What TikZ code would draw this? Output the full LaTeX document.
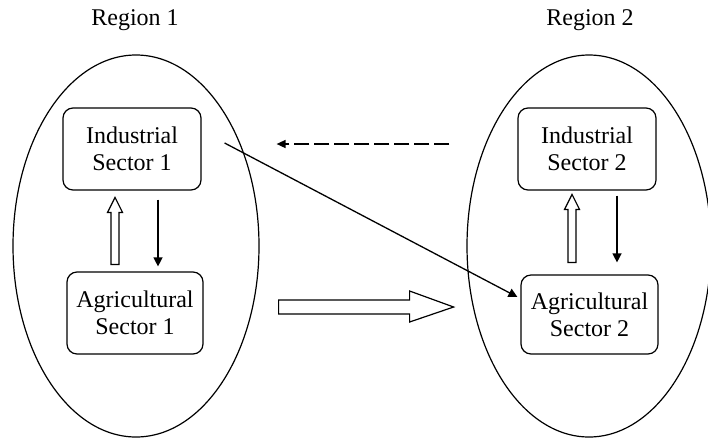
\documentclass[tikz,border=0pt]{standalone}
\usepackage{fontspec}
\setmainfont{Liberation Serif}
\usetikzlibrary{shapes.geometric,arrows.meta}
\tikzset{
  region/.style={draw, ellipse, line width=1.2pt, inner sep=0pt},
  sector/.style={draw, rounded corners=10pt, line width=1.2pt, align=center,
    inner sep=0pt, font=\fontsize{24}{27}\selectfont},
  lab/.style={font=\fontsize{24}{27}\selectfont, inner sep=0pt},
  hollow/.style={draw, line width=1.2pt, fill=white, line join=miter},
  flow/.style={line width=1.3pt, -{Triangle[length=9pt,width=9pt]}},
  dashflow/.style={line width=1.5pt, dash pattern=on 15pt off 5pt, -{Triangle[length=9pt,width=8pt]}}
}
\begin{document}
\begin{tikzpicture}[x=1pt,y=-1pt]
\clip (0,0) rectangle (708,437);
\fill[white] (0,0) rectangle (708,437);
% regions
\node[region, minimum width=246pt, minimum height=382pt] (e1) at (136,246) {};
\node[region, minimum width=244pt, minimum height=382pt] (e2) at (589,246) {};
\node[lab] (r1) at (135,20) {Region 1};
\node[lab] (r2) at (590,20) {Region 2};
% sectors
\node[sector, minimum width=138pt, minimum height=82pt] (ind1) at (132,149) {Industrial\\Sector 1};
\node[sector, minimum width=136pt, minimum height=82pt] (agr1) at (135,313) {Agricultural\\Sector 1};
\node[sector, minimum width=138pt, minimum height=82pt] (ind2) at (587,149) {Industrial\\Sector 2};
\node[sector, minimum width=137pt, minimum height=79pt] (agr2) at (589.5,314.5) {Agricultural\\Sector 2};
% hollow up arrows
\coordinate (u1) at ([xshift=-20pt,yshift=7pt]agr1.north);
\draw[hollow] (u1) ++(-4,0) -- ++(8,0) -- ++(0,-52) -- ++(3.5,0) -- ++(-7.5,-15) -- ++(-7.5,15) -- ++(3.5,0) -- cycle;
\coordinate (u2) at ([xshift=-17.5pt,yshift=12pt]agr2.north);
\draw[hollow] (u2) ++(-4,0) -- ++(8,0) -- ++(0,-53) -- ++(3.5,0) -- ++(-7.5,-15) -- ++(-7.5,15) -- ++(3.5,0) -- cycle;
% down arrows
\draw[flow] ([xshift=26pt,yshift=-9pt]ind1.south) -- ([xshift=23pt,yshift=5pt]agr1.north);
\draw[flow] ([xshift=30pt,yshift=-5pt]ind2.south) -- ([xshift=27.5pt,yshift=12pt]agr2.north);
% big hollow right arrow
\coordinate (b1) at ([xshift=75pt,yshift=6pt]agr1.east);
\draw[hollow] (b1) ++(0,-7) -- ++(131,0) -- ++(0,-9) -- ++(44,16) -- ++(-44,15) -- ++(0,-8) -- ++(-131,0) -- cycle;
% dashed arrow
\coordinate (ds) at ([xshift=-68pt,yshift=5pt]ind2.west);
\coordinate (de) at ([xshift=75pt,yshift=5pt]ind1.east);
\draw[dashflow] (ds) -- (de);
% diagonal arrow
\draw[flow] ([xshift=23pt,yshift=6pt]ind1.east) -- ([xshift=-3pt,yshift=17.5pt]agr2.west);
\end{tikzpicture}
\end{document}
